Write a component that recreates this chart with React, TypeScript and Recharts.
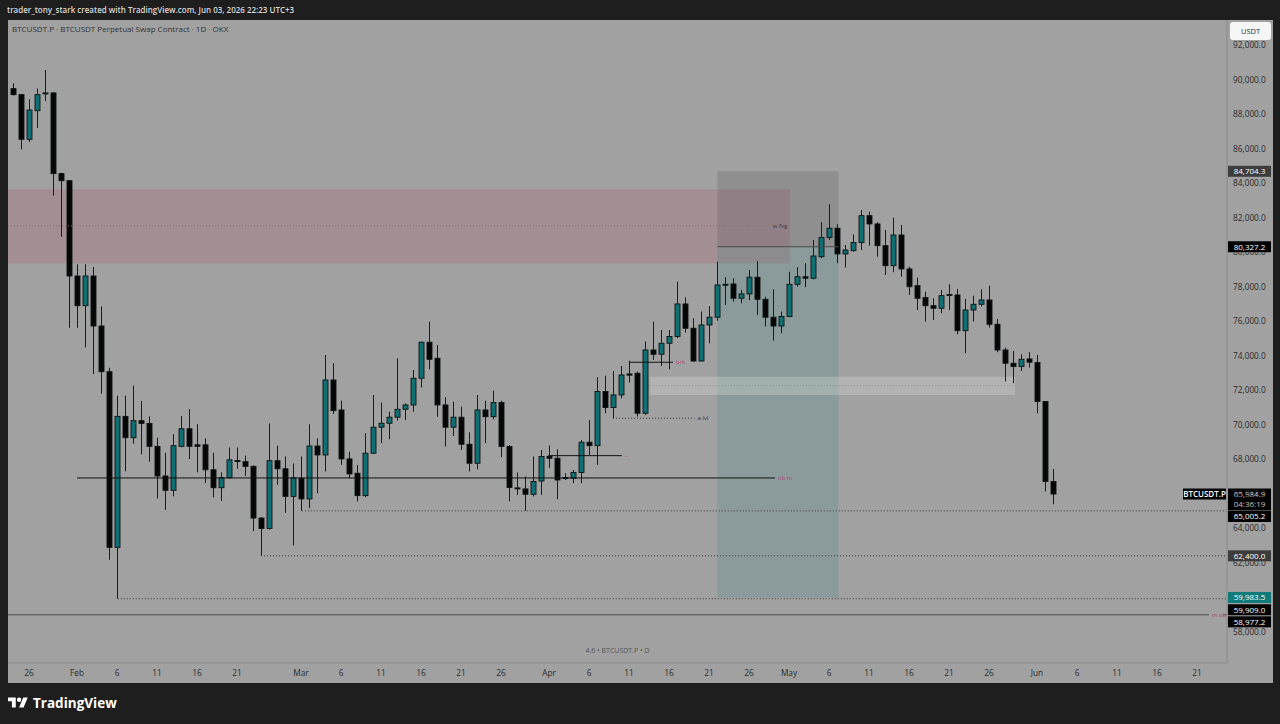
import {
  Bar,
  ComposedChart,
  ReferenceArea,
  ReferenceLine,
  XAxis,
  YAxis,
} from 'recharts';

const FONT = '"Open Sans", "Noto Sans", sans-serif';
const TEAL = '#0f6f73';
const PINK = '#b0467a';

// daily candles, Jan 24 2026 -> Jun 3 2026 (one entry per day)
const OPENS = [
  // Jan 24-31
  89500, 89150, 86560, 88220, 89210, 89250, 84570, 84160,
  // Feb
  78630, 76910, 78630, 75730, 73080, 62890, 70490, 69250, 70240, 70080, 68750, 67030, 66200, 68750,
  69770, 68840, 68840, 67390, 66350, 66930, 67930, 67860, 67590, 64590, 63990, 67920, 67450, 65850,
  // Mar
  66900, 65700, 68770, 68250, 72600, 70860, 68020, 67190, 65890, 68350, 69860, 70090, 70440, 70900,
  71150, 72700, 74790, 73860, 71150, 69860, 70440, 68870, 67770, 70860, 70470, 71290, 68740, 66340,
  66280, 65970, 66740,
  // Apr
  68160, 68060, 66880, 66900, 67230, 68990, 68790, 71930, 71000, 71730, 72950, 72990, 70670, 74340,
  74090, 74730, 75120, 77010, 75600, 73700, 75790, 76240, 78110, 78170, 77340, 77590, 78560, 77280,
  76240, 75730,
  // May
  76280, 78150, 78590, 78500, 79750, 80860, 81400, 79910, 80100, 80570, 82130, 81650, 80390, 79230,
  81010, 79040, 78070, 77380, 76910, 76760, 77530, 77530, 75460, 76660, 76990, 77240, 75830, 74340,
  73570, 73380, 73820,
  // Jun
  73610, 71350, 66710,
];
const HIGHS = [
  89810, 89190, 88880, 89500, 90580, 89300, 84620, 84200,
  79310, 79310, 79150, 76870, 73310, 71690, 71690, 72270, 71380, 70490, 69250, 68380, 69460, 70510,
  70910, 70040, 69210, 68380, 67240, 68690, 68690, 68210, 67650, 64650, 70080, 68790, 68170, 67760,
  68160, 70030, 69220, 74050, 73570, 71400, 68450, 67670, 69510, 71730, 71290, 70760, 73860, 71250,
  73180, 74820, 75980, 74630, 71600, 71340, 71050, 69570, 71730, 71400, 71980, 71400, 68830, 67230,
  67000, 68160, 68540,
  68800, 68580, 67190, 67380, 69120, 70280, 72760, 72850, 73120, 73410, 73720, 73090, 74830, 75990,
  75500, 75500, 78300, 77400, 76180, 76570, 76890, 79460, 78560, 78500, 77820, 78980, 79500, 77430,
  77860, 76570,
  78880, 79140, 79370, 80720, 81750, 82790, 81630, 80430, 81050, 82460, 82360, 81750, 81300, 82020,
  81590, 79170, 78540, 77720, 77340, 77820, 78150, 77880, 77300, 77490, 77860, 78070, 76140, 74480,
  74280, 74090, 74210,
  74050, 71380, 67440,
];
const LOWS = [
  89090, 85980, 86400, 87220, 88780, 83290, 80910, 75630,
  75630, 74490, 72940, 71800, 62170, 59910, 67300, 68900, 68280, 67860, 65730, 65070, 65850, 68700,
  68010, 67240, 66620, 65790, 65580, 66880, 67450, 67030, 63820, 62400, 63930, 66520, 64900, 63000,
  65005, 65160, 66030, 67290, 70630, 67670, 66900, 65550, 65800, 68310, 68930, 69160, 70240, 70280,
  70760, 72160, 73220, 70470, 68740, 69350, 68540, 67290, 67420, 68930, 70320, 68120, 65550, 65930,
  65010, 65840, 65930,
  67500, 65680, 66800, 66610, 66610, 68250, 67670, 70670, 70380, 71540, 72450, 70480, 70570, 73760,
  73410, 73220, 75020, 75350, 73650, 73670, 74730, 76040, 76950, 77140, 77050, 77240, 76370, 75700,
  74880, 75310,
  76240, 78010, 77980, 78440, 79660, 80720, 79370, 79120, 80040, 80140, 80390, 79750, 78690, 78850,
  78590, 77530, 76660, 75990, 76080, 76470, 76660, 75250, 74150, 75990, 76860, 75640, 74210, 72510,
  72410, 73120, 73320,
  70670, 66130, 65390,
];
const CLOSES = [
  89150, 86560, 88260, 89150, 89250, 84570, 84160, 78630,
  76910, 78630, 75730, 73080, 62890, 70490, 69250, 70240, 70080, 68750, 67030, 66200, 68790, 69770,
  68750, 68750, 67390, 66350, 66930, 67970, 67900, 67590, 64590, 63990, 67920, 67450, 65850, 66920,
  65700, 68770, 68250, 72600, 70820, 68020, 67150, 65890, 68350, 69860, 70090, 70440, 70900, 71150,
  72700, 74790, 73800, 71150, 69860, 70440, 68870, 67770, 70860, 70470, 71290, 68740, 66360, 66300,
  65970, 66710, 68160,
  68060, 66800, 66940, 67230, 68990, 68790, 71930, 71000, 71730, 72890, 72880, 70670, 74340, 74090,
  74730, 75120, 77010, 75600, 73700, 75790, 76240, 78110, 78150, 77340, 77590, 78560, 77280, 76240,
  75730, 76280,
  78150, 78590, 78500, 79790, 80860, 81400, 79910, 80140, 80570, 82130, 81650, 80390, 79230, 81010,
  79040, 78010, 77340, 76910, 76760, 77490, 77560, 75460, 76660, 76990, 77240, 75830, 74340, 73570,
  73380, 73800, 73630,
  71350, 66710, 65985,
];

// time axis: day index (0 = Jan 24) and its label
const TICK_DAYS = [2, 8, 13, 18, 23, 28, 36, 41, 46, 51, 56, 61, 67, 72, 77, 82, 87, 92, 97, 102, 107, 112, 117, 122, 128, 133, 138, 143, 148];
const TICK_LABELS = ['26', 'Feb', '6', '11', '16', '21', 'Mar', '6', '11', '16', '21', '26', 'Apr', '6', '11', '16', '21', '26', 'May', '6', '11', '16', '21', '26', 'Jun', '6', '11', '16', '21'];
const PRICE_TICKS = [58000, 60000, 62000, 64000, 66000, 68000, 70000, 72000, 74000, 76000, 78000, 80000, 82000, 84000, 86000, 88000, 90000, 92000];

// price tags sitting on the right scale
const TAG_PRICES = [84704.3, 80327.2, 65984.9, 65005.2, 62400, 59983.5, 59909, 58977.2];

const Y_DOMAIN = [56183, 93480];
const PLOT_H = 643;
const PX = PLOT_H / (Y_DOMAIN[1] - Y_DOMAIN[0]);

const candles = OPENS.map((open, i) => ({
  day: i,
  open,
  high: HIGHS[i],
  low: LOWS[i],
  close: CLOSES[i],
  range: [LOWS[i], HIGHS[i]],
}));

const fmt = (v: number) =>
  v.toLocaleString('en-US', { minimumFractionDigits: 1, maximumFractionDigits: 1 });

function Candle(props: any) {
  const { x, y, width, height, payload } = props;
  if (!payload || height == null) return null;
  const { open, close, high, low } = payload;
  const cx = Math.round(x + width / 2) + 0.5;
  const k = high === low ? 0 : height / (high - low);
  const top = y + (high - Math.max(open, close)) * k;
  const bottom = y + (high - Math.min(open, close)) * k;
  const up = close >= open;
  return (
    <g>
      <line x1={cx} x2={cx} y1={y} y2={y + height} stroke="#1c1c1c" strokeWidth={1} />
      <rect
        x={cx - 2.5}
        y={top}
        width={5}
        height={Math.max(bottom - top, 1)}
        fill={up ? TEAL : '#050505'}
        stroke="#0c1414"
        strokeWidth={0.9}
      />
    </g>
  );
}

// scale label; the part that hides under a price tag (unshifted tags only) is clipped away
function PriceTick(props: any) {
  const { x, y, payload } = props;
  const v = payload.value;
  let clipTop = -Infinity;
  for (const t of [84704.3, 80327.2, 62400, 59983.5]) {
    const ty = y - (t - v) * PX;
    if (Math.abs(ty - y) < 11) clipTop = Math.max(clipTop, ty + 5.5);
  }
  if (clipTop > y + 5) return null;
  const id = `yt-${v}`;
  return (
    <g>
      {clipTop > -Infinity && (
        <clipPath id={id}>
          <rect x={x - 5} y={clipTop} width={60} height={20} />
        </clipPath>
      )}
      <text
        x={x}
        y={y}
        dy="0.35em"
        fontSize={8.3}
        fill="#2b2b2b"
        fontFamily={FONT}
        clipPath={clipTop > -Infinity ? `url(#${id})` : undefined}
      >
        {fmt(v)}
      </text>
    </g>
  );
}

function PriceTag(props: any) {
  const { viewBox, text, bg, dy = 0, sub, name } = props;
  if (!viewBox) return null;
  const x = viewBox.x + viewBox.width;
  const y = viewBox.y + dy;
  const h = sub ? 22 : 11;
  return (
    <g fontFamily={FONT} fontSize={8}>
      {name && (
        <g>
          <rect x={x - 44} y={y - 5.5} width={43} height={11} fill="#000" />
          <text x={x - 22.5} y={y} dy="0.35em" textAnchor="middle" fill="#fff" fontWeight={600}>
            {name}
          </text>
        </g>
      )}
      <rect x={x + 1} y={y - 5.5} width={43} height={h} fill={bg} />
      <text x={x + 22.5} y={y} dy="0.35em" textAnchor="middle" fill="#fff">
        {text}
      </text>
      {sub && (
        <text x={x + 22.5} y={y + 10.5} dy="0.35em" textAnchor="middle" fill="#c4c4c4">
          {sub}
        </text>
      )}
    </g>
  );
}

const RIGHT = 151.75;
const pinkLabel = (value: string) => ({ value, position: 'right' as const, fill: PINK, fontSize: 6, offset: 3, fontFamily: FONT });

export default function App() {
  const [stop, entry, last, mar1Low, feb24Low, target, feb6Low, monthlyOb] = TAG_PRICES;
  return (
    <div
      style={{
        position: 'relative',
        width: 1280,
        height: 724,
        background: '#1e1e1e',
        overflow: 'hidden',
        fontFamily: FONT,
      }}
    >
      <style>{'body{margin:0}'}</style>
      <div
        style={{
          position: 'absolute',
          left: 7,
          top: 4,
          fontSize: 8,
          lineHeight: '12px',
          color: '#d8d8d8',
          fontWeight: 600,
        }}
      >
        trader_tony_stark created with TradingView.com, Jun 03, 2026 22:23 UTC+3
      </div>

      <div style={{ position: 'absolute', left: 8, top: 20, width: 1265, height: 663, background: '#a1a1a1' }}>
        <ComposedChart width={1265} height={663} data={candles} margin={{ top: 0, right: 0, bottom: 0, left: 0 }}>
          <XAxis
            dataKey="day"
            type="number"
            domain={[-0.625, RIGHT]}
            allowDataOverflow
            ticks={TICK_DAYS}
            interval={0}
            tickFormatter={(d) => TICK_LABELS[TICK_DAYS.indexOf(d)] ?? ''}
            height={20}
            tickSize={5}
            tickLine={false}
            axisLine={{ stroke: '#8a8a8a' }}
            tick={{ fontSize: 8.3, fill: '#2b2b2b', fontFamily: FONT }}
          />
          <YAxis
            orientation="right"
            type="number"
            domain={Y_DOMAIN}
            allowDataOverflow
            ticks={PRICE_TICKS}
            interval={0}
            width={46}
            tickSize={4}
            tickLine={false}
            axisLine={{ stroke: '#8a8a8a' }}
            tick={<PriceTick />}
          />

          {/* fvg zone */}
          <ReferenceArea x1={-0.625} x2={97.1} y1={79351} y2={83661} fill="rgb(170,100,120)" fillOpacity={0.3} stroke="none" />
          {/* short position tool */}
          <ReferenceArea x1={88.05} x2={103.2} y1={entry} y2={stop} fill="rgb(60,60,60)" fillOpacity={0.18} stroke="none" />
          <ReferenceArea x1={88.05} x2={103.2} y1={target} y2={entry} fill="rgb(40,130,130)" fillOpacity={0.18} stroke="none" />
          {/* light band */}
          <ReferenceArea x1={79.6} x2={125.25} y1={71730} y2={72790} fill="#ffffff" fillOpacity={0.2} stroke="none" />

          <ReferenceLine
            segment={[{ x: -0.625, y: 81532 }, { x: 94.6, y: 81532 }]}
            stroke="#8f6f7a"
            strokeDasharray="1 2"
            label={{ value: 'w fvg', position: 'right', fill: '#3a3a3a', fontSize: 6, offset: 3, fontFamily: FONT }}
          />
          <ReferenceLine segment={[{ x: 88.05, y: entry }, { x: 103.2, y: entry }]} stroke="#4a4a4a" />
          <ReferenceLine segment={[{ x: 79.6, y: 72270 }, { x: 125.25, y: 72270 }]} stroke="#8c8c8c" strokeDasharray="1 2" />
          <ReferenceLine segment={[{ x: 77.1, y: 73627 }, { x: 82.5, y: 73627 }]} stroke="#111" label={pinkLabel('brk')} />
          <ReferenceLine
            segment={[{ x: 75, y: 70380 }, { x: 85.2, y: 70380 }]}
            stroke="#3a3a3a"
            strokeDasharray="1 2"
            label={{ value: 'a lvl', position: 'right', fill: '#2e2e2e', fontSize: 6, offset: 3, fontFamily: FONT }}
          />
          <ReferenceLine segment={[{ x: 66.9, y: 68210 }, { x: 76.1, y: 68210 }]} stroke="#111" label={pinkLabel('–')} />
          <ReferenceLine segment={[{ x: 8, y: 66916 }, { x: 95.25, y: 66916 }]} stroke="#111" label={pinkLabel('ob m')} />
          <ReferenceLine segment={[{ x: 36.1, y: mar1Low }, { x: RIGHT, y: mar1Low }]} stroke="#3a3a3a" strokeDasharray="1 2" />
          <ReferenceLine segment={[{ x: 31, y: feb24Low }, { x: RIGHT, y: feb24Low }]} stroke="#3a3a3a" strokeDasharray="1 2" />
          <ReferenceLine segment={[{ x: 13.1, y: feb6Low }, { x: RIGHT, y: feb6Low }]} stroke="#3a3a3a" strokeDasharray="1 2" />
          <ReferenceLine segment={[{ x: -0.625, y: monthlyOb }, { x: 149.5, y: monthlyOb }]} stroke="#4a4a4a" label={pinkLabel('m ob')} />
          <ReferenceLine segment={[{ x: 151.3, y: monthlyOb }, { x: RIGHT, y: monthlyOb }]} stroke="#4a4a4a" />

          <Bar dataKey="range" barSize={6} shape={<Candle />} isAnimationActive={false} />

          <ReferenceLine y={stop} stroke="none" label={<PriceTag text={fmt(stop)} bg="#3d3d3d" />} />
          <ReferenceLine y={entry} stroke="none" label={<PriceTag text={fmt(entry)} bg="#000" />} />
          <ReferenceLine
            y={last}
            stroke="none"
            label={<PriceTag text={fmt(last)} bg="#000" sub="04:36:19" name="BTCUSDT.P" />}
          />
          <ReferenceLine y={mar1Low} stroke="none" label={<PriceTag text={fmt(mar1Low)} bg="#000" dy={5.6} />} />
          <ReferenceLine y={feb24Low} stroke="none" label={<PriceTag text={fmt(feb24Low)} bg="#3d3d3d" />} />
          <ReferenceLine y={feb6Low} stroke="none" label={<PriceTag text={fmt(feb6Low)} bg="#000" dy={11} />} />
          <ReferenceLine y={monthlyOb} stroke="none" label={<PriceTag text={fmt(monthlyOb)} bg="#000" dy={7} />} />
          <ReferenceLine y={target} stroke="none" label={<PriceTag text={fmt(target)} bg="#0f7b7a" />} />
        </ComposedChart>

        <div style={{ position: 'absolute', left: 4, top: 4, fontSize: 8, lineHeight: '10px', color: '#333' }}>
          BTCUSDT.P · BTCUSDT Perpetual Swap Contract · 1D · OKX
        </div>
        <div
          style={{
            position: 'absolute',
            left: 1222,
            top: 2,
            width: 41,
            height: 18,
            background: '#f6f6f6',
            borderRadius: 3,
            fontSize: 7.5,
            lineHeight: '18px',
            textAlign: 'center',
            color: '#333',
          }}
        >
          USDT
        </div>
        <div
          style={{
            position: 'absolute',
            left: 0,
            width: 1219,
            top: 626,
            fontSize: 7,
            lineHeight: '10px',
            textAlign: 'center',
            color: '#555',
          }}
        >
          4.6 • BTCUSDT.P • D
        </div>
      </div>

      <svg width={20} height={16} viewBox="0 0 36 28" style={{ position: 'absolute', left: 8, top: 695 }}>
        <path d="M14 22H7V11H0V4h14v18z" fill="#fff" />
        <path d="M28 22h-8l7.5-18h8L28 22z" fill="#fff" />
        <circle cx="20" cy="8" r="4" fill="#fff" />
      </svg>
      <div
        style={{
          position: 'absolute',
          left: 33,
          top: 694,
          fontSize: 13.5,
          lineHeight: '18px',
          fontWeight: 700,
          color: '#fff',
        }}
      >
        TradingView
      </div>
    </div>
  );
}
